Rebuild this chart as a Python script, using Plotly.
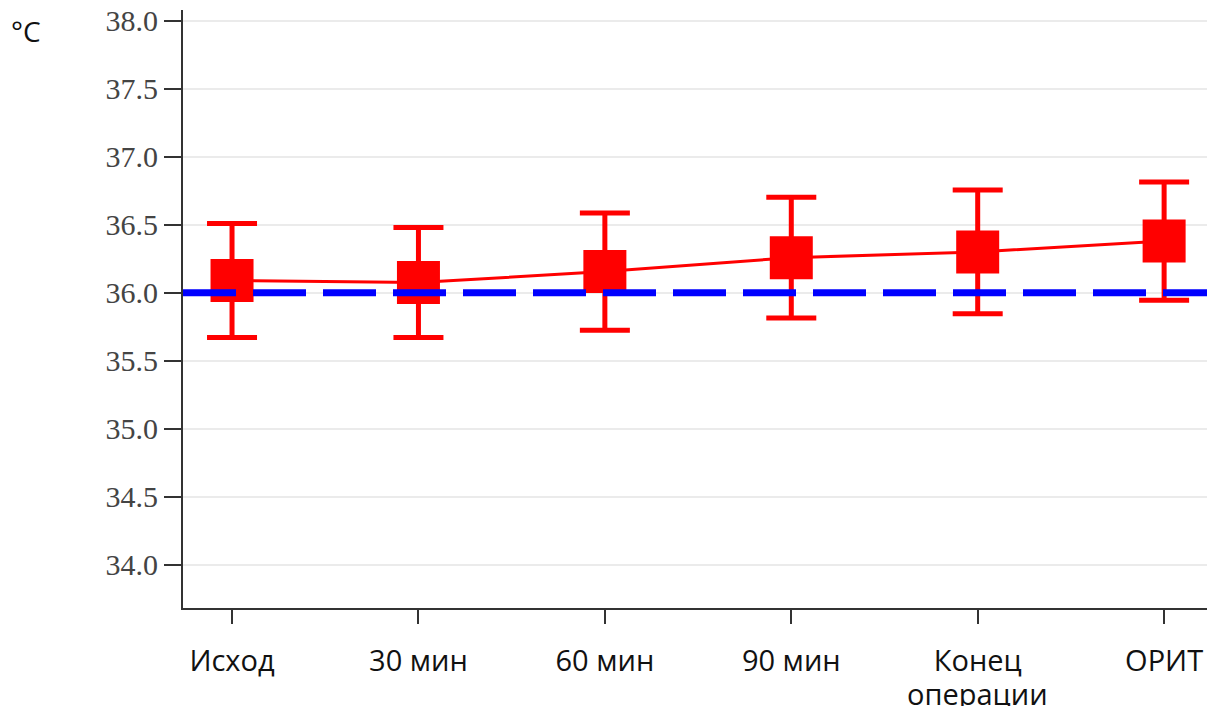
import plotly.graph_objects as go

categories = ["Исход", "30 мин", "60 мин", "90 мин", "Конец операции", "ОРИТ"]
mean_temp = [36.09, 36.075, 36.155, 36.258, 36.30, 36.38]
sd_temp = [0.42, 0.405, 0.432, 0.445, 0.455, 0.435]
reference_temp = 36.0
y_ticks = [34.0, 34.5, 35.0, 35.5, 36.0, 36.5, 37.0, 37.5, 38.0]

x_idx = list(range(len(categories)))

# first line of each category goes on the axis; a second line (if any) is
# placed right below it with tighter line spacing than plotly's default
first_lines = []
second_lines = []
for c in categories:
    parts = c.split(" ", 1)
    if len(parts) == 2 and not parts[0].isdigit():
        first_lines.append(parts[0])
        second_lines.append(parts[1])
    else:
        first_lines.append(c)
        second_lines.append("")

sans = "Open Sans, Lato, sans-serif"
xfont = dict(family=sans, size=29, color="#111111")

fig = go.Figure()
fig.add_trace(go.Scatter(
    x=x_idx, y=mean_temp,
    mode="lines+markers",
    line=dict(color="#ff0000", width=3),
    marker=dict(symbol="square", size=43, color="#ff0000", line=dict(width=0)),
    error_y=dict(type="data", array=sd_temp, visible=True, color="#ff0000",
                 thickness=5, width=25),
    showlegend=False,
    cliponaxis=False,
))
fig.add_shape(type="line", xref="paper", yref="y", x0=0, x1=1,
              y0=reference_temp, y1=reference_temp,
              line=dict(color="#0000ff", width=7, dash="53px,17px"),
              layer="above")

annotations = [dict(
    text="°C", xref="paper", yref="paper", x=-0.170, y=1.0,
    xanchor="left", yanchor="top", showarrow=False,
    font=dict(family=sans, size=28, color="#111111"),
)]
for i, s in enumerate(second_lines):
    if s:
        annotations.append(dict(
            text=s, xref="x", yref="paper", x=i, y=0, yshift=-64,
            xanchor="center", yanchor="top", showarrow=False, font=xfont,
        ))

fig.update_layout(
    width=1207, height=706,
    margin=dict(l=183, r=0, t=10, b=98, autoexpand=False),
    plot_bgcolor="white", paper_bgcolor="white",
    xaxis=dict(
        range=[-0.263, 5.23], automargin=False,
        tickmode="array", tickvals=x_idx, ticktext=first_lines,
        showgrid=False, zeroline=False,
        showline=True, linecolor="#333333", linewidth=2,
        ticks="outside", ticklen=14, tickwidth=2, tickcolor="#333333",
        tickfont=xfont,
        ticklabelstandoff=12,
    ),
    yaxis=dict(
        range=[33.68, 38.08], automargin=False,
        tickmode="array", tickvals=y_ticks,
        ticktext=[f"{v:.1f}" for v in y_ticks],
        showgrid=True, gridcolor="#ebebeb", gridwidth=1.5,
        zeroline=False,
        showline=True, linecolor="#333333", linewidth=2,
        ticks="outside", ticklen=17, tickwidth=2, tickcolor="#333333",
        tickfont=dict(family="Liberation Serif, serif", size=30, color="#444444"),
    ),
    annotations=annotations,
)

fig.write_html(
    "out.html",
    config={"displayModeBar": False},
    post_script="document.body.style.margin='0px';document.body.style.overflow='hidden';",
)
